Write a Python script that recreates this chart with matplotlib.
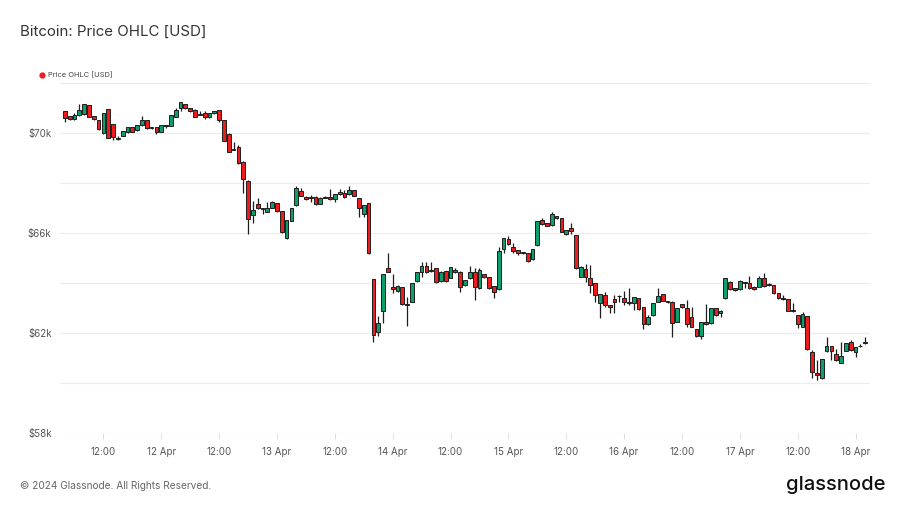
import numpy as np
import pandas as pd
import matplotlib
matplotlib.use('Agg')
import matplotlib.pyplot as plt
import matplotlib.dates as mdates
from matplotlib.lines import Line2D

plt.rcParams['font.family'] = ['Inter', 'DejaVu Sans']

# hourly candles, BTC/USD
start = '2024-04-11 04:00'
opens = [70880, 70670, 70550, 70720, 70760, 71120, 70680, 70520, 69990, 70960,
         70350, 69790, 69890, 70030, 70230, 70110, 70320, 70510, 70210, 70230,
         70050, 70290, 70290, 70650, 70990, 71150, 70990, 70920, 70740, 70790,
         70630, 70790, 70920, 70520, 69950, 69340, 69430, 68850, 68090, 66720,
         67150, 66990, 66850, 67010, 67190, 66880, 65790, 66490, 67120, 67680,
         67430, 67410, 67450, 67170, 67430, 67450, 67360, 67550, 67610, 67550,
         67720, 67390, 66750, 67190, 64150, 62050, 62880, 64590, 63830, 63680,
         63830, 63150, 63250, 64090, 64430, 64690, 64490, 64590, 64080, 64480,
         64210, 64520, 64430, 63920, 64190, 64450, 63790, 64360, 64230, 63880,
         63750, 65350, 65750, 65450, 65320, 65210, 65190, 64950, 65520, 66520,
         66390, 66320, 66680, 66590, 65960, 66190, 65920, 64250, 64550, 64190,
         63990, 63210, 63520, 63120, 63360, 63470, 63390, 63250, 63190, 63390,
         63030, 62360, 62720, 63250, 63550, 63260, 63250, 62450, 63160, 62990,
         62650, 62160, 61880, 62430, 62390, 62990, 62790, 63390, 64050, 63790,
         63750, 64010, 64010, 63850, 63850, 64190, 63950, 63920, 63590, 63390,
         63350, 62890, 62720, 62250, 62680, 61230, 60410, 60190, 61280, 61480,
         61150, 60810, 61290, 61630, 61250, 61470, 61590]
highs = [70900, 70690, 70790, 71150, 71160, 71140, 70700, 70540, 70790, 70980,
         70360, 69890, 70100, 70240, 70250, 70330, 70690, 70520, 70250, 70250,
         70330, 70320, 70740, 70990, 71250, 71170, 71010, 70960, 70880, 70880,
         70800, 70900, 70940, 70540, 70010, 69650, 69520, 68870, 68110, 67280,
         67410, 67010, 67230, 67270, 67210, 66900, 66540, 67010, 67880, 67810,
         67490, 67520, 67470, 67430, 67480, 67750, 67570, 67760, 67720, 67880,
         67740, 67410, 67130, 67210, 64170, 62680, 64350, 65190, 64350, 63920,
         63850, 63450, 64000, 64440, 64850, 64830, 64850, 64610, 64470, 64500,
         64650, 64590, 64480, 64130, 64680, 64590, 64590, 64380, 64250, 63900,
         65430, 65790, 65880, 65590, 65340, 65250, 65210, 65350, 66480, 66590,
         66410, 66830, 66700, 66610, 66140, 66410, 65940, 64670, 64760, 64720,
         64010, 63570, 63630, 63140, 63520, 63520, 63680, 63790, 63440, 63410,
         63050, 62720, 63190, 63790, 63570, 63290, 63270, 63000, 63180, 63320,
         63050, 62180, 62430, 63150, 63000, 63010, 62910, 64190, 64070, 63810,
         64110, 64050, 64280, 63870, 64280, 64410, 63990, 63940, 63610, 63520,
         63370, 63190, 62740, 62850, 62700, 61330, 60920, 60970, 61830, 61500,
         61350, 61630, 61600, 61720, 61450, 61560, 61830]
lows = [70450, 70540, 70520, 70700, 70740, 70640, 70520, 70140, 69960, 69790,
        69720, 69720, 69870, 70010, 70040, 70090, 70300, 70170, 70160, 69950,
        70030, 70190, 70270, 70630, 70880, 70960, 70860, 70630, 70720, 70560,
        70610, 70770, 70450, 69670, 69230, 69320, 68770, 67590, 65950, 66390,
        66970, 66750, 66830, 66990, 66860, 66000, 65760, 66470, 67100, 67470,
        67310, 67250, 67130, 67150, 67390, 67340, 67250, 67530, 67410, 67530,
        67470, 66650, 66650, 65170, 61650, 61890, 62390, 64430, 63590, 63650,
        63130, 62290, 63230, 64050, 64250, 64410, 64450, 64010, 64060, 64030,
        64190, 64390, 63650, 63900, 64170, 63320, 63770, 64210, 63770, 63390,
        63730, 65190, 65540, 65210, 65120, 65160, 64850, 64930, 65500, 66340,
        66270, 66300, 66570, 66030, 65940, 65950, 64570, 64230, 64050, 63590,
        63250, 62590, 63030, 62790, 62810, 63250, 63120, 63120, 62920, 62930,
        62150, 62340, 62700, 63230, 63270, 63210, 61850, 62430, 63010, 62250,
        62230, 61860, 61750, 62330, 62370, 62700, 62630, 63370, 63730, 63700,
        63730, 63790, 63770, 63730, 63830, 63860, 63900, 63570, 63370, 63330,
        62870, 62850, 62190, 62230, 61330, 60190, 60120, 60170, 61260, 60920,
        60900, 60790, 61270, 61300, 61030, 61450, 61570]
closes = [70590, 70550, 70720, 70920, 71150, 70650, 70550, 70160, 70790, 69810,
          69850, 69780, 70080, 70230, 70050, 70320, 70510, 70190, 70200, 70050,
          70320, 70300, 70720, 70920, 71230, 71010, 70880, 70650, 70750, 70650,
          70790, 70880, 70520, 69690, 69250, 69350, 68790, 68150, 66550, 66920,
          66990, 66950, 67010, 67250, 66880, 66030, 66520, 66990, 67790, 67490,
          67350, 67420, 67150, 67410, 67420, 67360, 67550, 67630, 67430, 67720,
          67490, 66990, 67120, 65190, 61920, 62390, 64350, 64450, 63760, 63880,
          63150, 63130, 63990, 64430, 64690, 64430, 64500, 64030, 64450, 64080,
          64630, 64430, 63850, 64120, 64450, 63830, 64520, 64230, 63790, 63650,
          65290, 65790, 65560, 65290, 65190, 65220, 64890, 65350, 66480, 66360,
          66290, 66760, 66590, 66050, 66120, 66090, 64590, 64650, 64230, 63920,
          63520, 63550, 63120, 63030, 63250, 63480, 63250, 63190, 63430, 62950,
          62360, 62650, 63190, 63490, 63290, 63250, 62410, 62990, 63030, 62350,
          62250, 61880, 62430, 62350, 62990, 62720, 62890, 64190, 63750, 63720,
          64090, 64020, 63790, 63750, 64190, 63880, 63940, 63590, 63390, 63350,
          62890, 62880, 62350, 62750, 61350, 60450, 60320, 60950, 61490, 61280,
          60920, 61080, 61590, 61320, 61430, 61500, 61650]

y_ticks = [58000, 62000, 66000, 70000]
y_grid = [60000, 64000, 68000, 72000]

RED = '#ec1c1f'
GREEN = '#0b9f6b'
EDGE = '#1e1e1e'

times = pd.date_range(start, periods=len(opens), freq='h')
x = mdates.date2num(times.to_pydatetime())
o = np.array(opens)
h = np.array(highs)
l = np.array(lows)
c = np.array(closes)
up = c >= o
cols = [GREEN if u else RED for u in up]

fig = plt.figure(figsize=(9.04, 5.08), dpi=100)
ax = fig.add_axes([60 / 904, 1 - 433 / 508, 810 / 904, 353 / 508])

ax.vlines(x, l, h, color=EDGE, linewidth=0.9, zorder=2)
body = np.maximum(np.abs(c - o), 25)
ax.bar(x, body, bottom=np.minimum(o, c), width=0.78 / 24, color=cols,
       edgecolor=EDGE, linewidth=0.7, zorder=3, align='center')

ax.set_ylim(58000, 72120)
ax.set_xlim(mdates.date2num(pd.Timestamp('2024-04-11 03:00')),
            mdates.date2num(pd.Timestamp('2024-04-18 03:00')))

ax.set_yticks(y_ticks)
ax.set_yticklabels(['$%dk' % (v // 1000) for v in y_ticks])
ax.set_yticks(y_grid, minor=True)
ax.grid(axis='y', which='both', color='#ececec', linewidth=0.8, zorder=0)
ax.tick_params(axis='y', which='both', length=0, labelsize=7, labelcolor='#555555', pad=6)

xt = pd.date_range('2024-04-11 12:00', '2024-04-18 00:00', freq='12h')
ax.set_xticks(mdates.date2num(xt.to_pydatetime()))
ax.set_xticklabels([t.strftime('%H:%M') if t.hour else '%d %s' % (t.day, t.strftime('%b')) for t in xt])
ax.tick_params(axis='x', length=4, color='#e0e0e0', labelsize=7, labelcolor='#555555', pad=6)

for s in ax.spines.values():
    s.set_visible(False)

fig.text(0.022, 0.937, 'Bitcoin: Price OHLC [USD]', fontsize=10.8, color='#333333', va='center')
fig.add_artist(Line2D([0.0465], [0.852], marker='o', color=RED, markersize=3.5,
                      transform=fig.transFigure))
fig.text(0.053, 0.852, 'Price OHLC [USD]', fontsize=5.4, color='#444444', va='center')
fig.text(0.022, 0.043, '\u00a9 2024 Glassnode. All Rights Reserved.', fontsize=7.3,
         color='#666666', va='center')
fig.text(0.979, 0.045, 'glassnode', fontsize=14.5, color='#111111', va='center', ha='right',
         fontweight='medium')

fig.savefig('out.png', dpi=100)
